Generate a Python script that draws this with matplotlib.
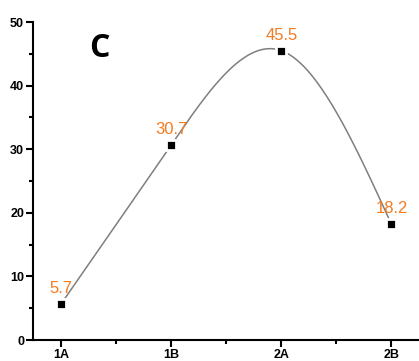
import numpy as np
import matplotlib.pyplot as plt
from matplotlib.ticker import MultipleLocator

groups = ['1A', '1B', '2A', '2B']
values = [5.7, 30.7, 45.5, 18.2]
labels = ['5.7', '30.7', '45.5', '18.2']


def natural_spline(x, y, n=200):
    x = np.asarray(x, float)
    y = np.asarray(y, float)
    k = len(x)
    h = np.diff(x)
    A = np.zeros((k, k))
    b = np.zeros(k)
    A[0, 0] = A[-1, -1] = 1
    for i in range(1, k - 1):
        A[i, i - 1] = h[i - 1]
        A[i, i] = 2 * (h[i - 1] + h[i])
        A[i, i + 1] = h[i]
        b[i] = 6 * ((y[i + 1] - y[i]) / h[i] - (y[i] - y[i - 1]) / h[i - 1])
    M = np.linalg.solve(A, b)
    xs = np.linspace(x[0], x[-1], n)
    ys = np.empty_like(xs)
    for j, t in enumerate(xs):
        i = min(np.searchsorted(x, t, side='right') - 1, k - 2)
        a, c = x[i + 1] - t, t - x[i]
        ys[j] = (M[i] * a ** 3 + M[i + 1] * c ** 3) / (6 * h[i]) \
            + (y[i] / h[i] - M[i] * h[i] / 6) * a \
            + (y[i + 1] / h[i] - M[i + 1] * h[i] / 6) * c
    return xs, ys


pos = np.arange(len(groups))
xs, ys = natural_spline(pos, values)

fig = plt.figure(figsize=(4.19, 3.61), dpi=100)
ax = fig.add_axes([0.079, 0.058, 0.921, 0.881])

ax.plot(xs, ys, color='#7f7f7f', lw=1.1, zorder=2)
ax.plot(pos, values, 's', color='black', ms=7, mec='white', mew=2, zorder=3)

for x, v, s in zip(pos, values, labels):
    ax.annotate(s, (x, v), xytext=(0, 8), textcoords='offset points',
                ha='center', va='baseline', color='#f47b20', fontsize=12,
                family='Liberation Sans')

ax.text(0.171, 0.918, 'C', transform=ax.transAxes, fontsize=23,
        fontweight='bold', family='Open Sans', va='center', ha='center')

ax.set_xlim(-0.255, 3.25)
ax.set_ylim(0, 50)
ax.set_xticks(pos)
ax.set_xticklabels(groups)
ax.xaxis.set_minor_locator(MultipleLocator(0.5))
ax.yaxis.set_major_locator(MultipleLocator(10))
ax.yaxis.set_minor_locator(MultipleLocator(5))

for sp in ['top', 'right']:
    ax.spines[sp].set_visible(False)
for sp in ['left', 'bottom']:
    ax.spines[sp].set_linewidth(1.5)

ax.tick_params(which='major', length=5, width=1.5, pad=1.5, labelsize=9)
ax.tick_params(which='minor', length=3, width=1.5)
for lab in ax.get_xticklabels() + ax.get_yticklabels():
    lab.set_fontweight('bold')
    lab.set_family('Liberation Sans')

fig.savefig('out.png', dpi=100)
